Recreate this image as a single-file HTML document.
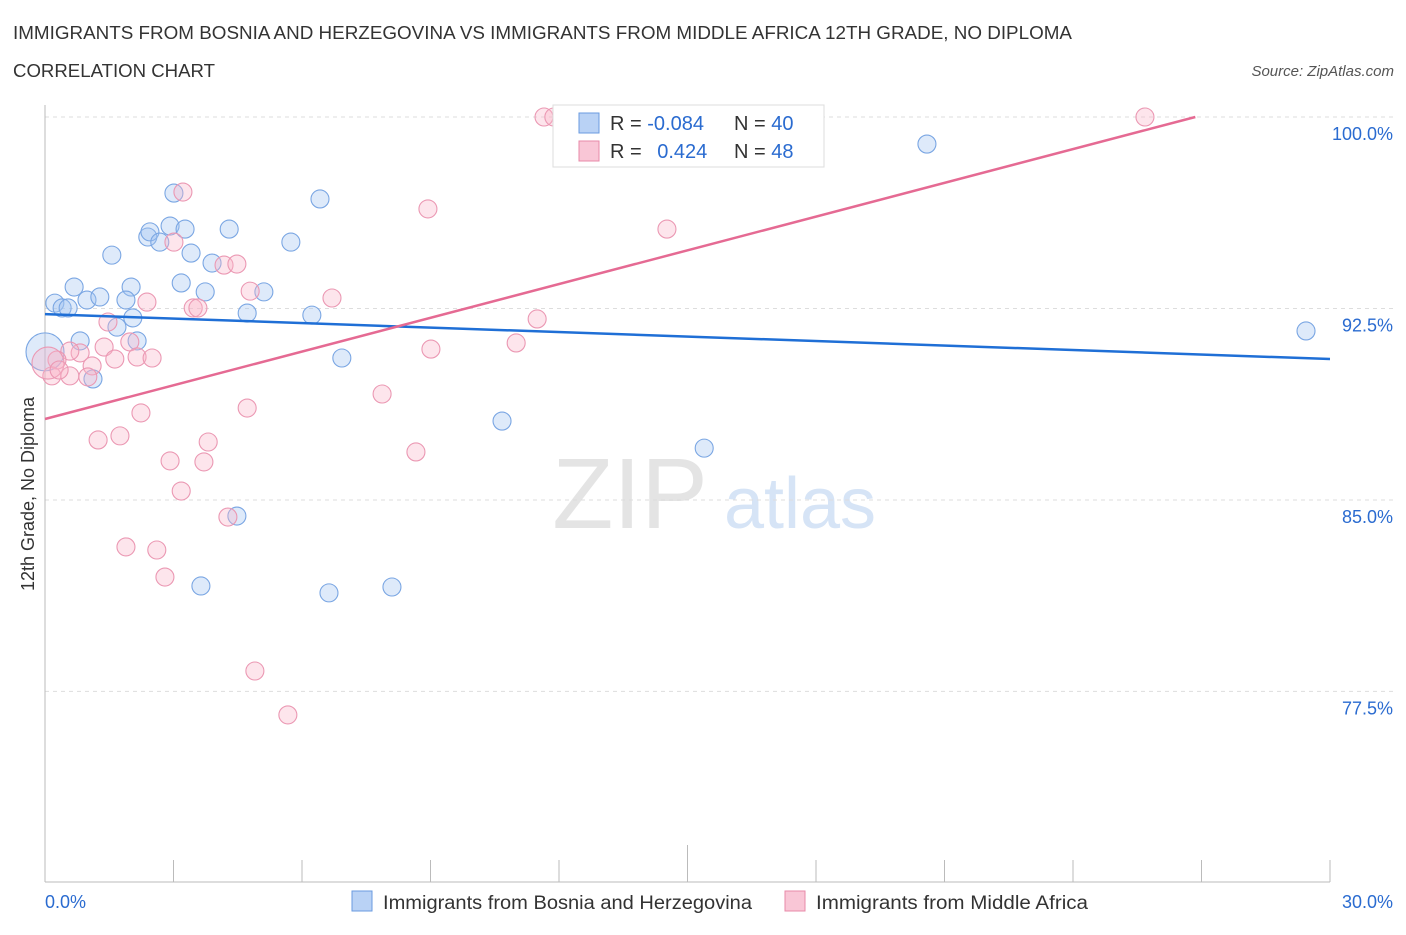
<!DOCTYPE html>
<html><head><meta charset="utf-8"><style>
body{margin:0;background:#fff;font-family:"Liberation Sans",sans-serif;}
svg text{font-family:"Liberation Sans",sans-serif;}
</style></head><body>
<svg width="1406" height="930">
<text x="13" y="39" font-size="18" fill="#333" textLength="1059" lengthAdjust="spacingAndGlyphs">IMMIGRANTS FROM BOSNIA AND HERZEGOVINA VS IMMIGRANTS FROM MIDDLE AFRICA 12TH GRADE, NO DIPLOMA</text>
<text x="13" y="77" font-size="18" fill="#333" textLength="202" lengthAdjust="spacingAndGlyphs">CORRELATION CHART</text>
<text x="1394" y="76" font-size="15" fill="#555" font-style="italic" text-anchor="end">Source: ZipAtlas.com</text>
<text x="630" y="528" font-size="100" fill="#e4e4e4" font-family="Liberation Serif" text-anchor="middle">ZIP</text>
<text x="800" y="528" font-size="72" fill="#d6e4f6" text-anchor="middle">atlas</text>
<g id="grid"></g>
<g id="axes"></g>
<g id="marks"></g>
<text transform="translate(34,494) rotate(-90)" font-size="18" fill="#333" text-anchor="middle">12th Grade, No Diploma</text>
<g>
<rect x="553" y="105" width="271" height="62" fill="#fff" stroke="#ddd"/>
<rect x="579" y="113" width="20" height="20" fill="#b9d2f5" stroke="#6a9be0"/>
<rect x="579" y="141" width="20" height="20" fill="#f9c6d6" stroke="#e88aa8"/>
<text x="610" y="130" font-size="20" fill="#333">R = <tspan fill="#2a6bd0">-0.084</tspan></text>
<text x="734" y="130" font-size="20" fill="#333">N = <tspan fill="#2a6bd0">40</tspan></text>
<text x="610" y="158" font-size="20" fill="#333">R = <tspan fill="#2a6bd0" dx="10">0.424</tspan></text>
<text x="734" y="158" font-size="20" fill="#333">N = <tspan fill="#2a6bd0">48</tspan></text>
</g>
<g>
<rect x="352" y="891" width="20" height="20" fill="#b9d2f5" stroke="#6a9be0"/>
<text x="383" y="909" font-size="19" fill="#333" textLength="369" lengthAdjust="spacingAndGlyphs">Immigrants from Bosnia and Herzegovina</text>
<rect x="785" y="891" width="20" height="20" fill="#f9c6d6" stroke="#e88aa8"/>
<text x="816" y="909" font-size="19" fill="#333" textLength="272" lengthAdjust="spacingAndGlyphs">Immigrants from Middle Africa</text>
</g>
</svg>
<script>
const yTicks=[100,92.5,85,77.5];
const yTickLabels=["100.0%","92.5%","85.0%","77.5%"];
const xTickLabels=["0.0%","30.0%"];
const blueX=[0.23,0.40,0.54,0.68,0.98,1.28,0.82,1.56,2.01,1.89,2.05,2.15,1.68,1.12,2.40,2.45,2.68,2.92,3.27,3.01,3.41,3.18,3.74,3.90,4.30,4.72,5.11,5.74,6.42,6.23,6.93,4.48,3.64,6.63,8.10,10.67,15.39,20.59,29.44,0.0];
const blueY=[92.71,92.52,92.52,93.34,92.83,92.95,91.23,94.59,93.34,92.83,92.13,91.23,91.77,89.74,95.30,95.50,95.10,95.73,95.61,97.02,94.67,93.50,93.15,94.28,95.61,92.32,93.15,95.10,96.79,92.24,90.56,84.37,81.63,81.36,81.59,88.09,87.03,98.94,91.62,90.80];
const pinkX=[11.65,11.88,25.68,3.22,3.01,8.94,14.52,4.18,4.48,4.79,6.70,2.38,3.46,3.57,11.49,11.00,9.01,1.47,1.98,1.38,0.82,0.58,0.28,1.10,1.63,2.15,2.50,0.58,1.00,0.16,7.87,4.72,2.24,1.24,1.75,3.81,2.92,3.71,8.66,3.18,4.27,1.89,2.61,2.80,4.90,5.67,0.07,0.33];
const pinkY=[100,100,100,97.06,95.10,96.40,95.61,94.20,94.24,93.18,92.91,92.75,92.52,92.52,92.09,91.15,90.91,91.97,91.19,90.99,90.76,90.83,90.48,90.25,90.52,90.60,90.56,89.86,89.82,89.86,89.15,88.60,88.41,87.35,87.51,87.27,86.53,86.49,86.88,85.35,84.33,83.16,83.04,81.98,78.30,76.58,90.36,90.09];
const blueTrend=[92.28,90.52];   // y at x=0, x=30
const pinkTrend=[88.17,0.4405];  // intercept, slope
const NS="http://www.w3.org/2000/svg";
const X=v=>45+v/30*1285;
const Y=v=>117+(100-v)*25.53;
function mk(t,a,p){const e=document.createElementNS(NS,t);for(const k in a)e.setAttribute(k,a[k]);p.appendChild(e);return e;}
const grid=document.getElementById('grid'),axes=document.getElementById('axes'),marks=document.getElementById('marks');
yTicks.forEach((t,i)=>{
 const g=mk('line',{x1:45,x2:1394,y1:Y(t),y2:Y(t),stroke:'#ddd','stroke-dasharray':'4,4'},grid);
 
 
 const l=mk('text',{x:1393,y:Y(t)+23,'font-size':18,fill:'#2a6bd0','text-anchor':'end'},axes);
 l.textContent=yTickLabels[i];
 
 
});
const ax=mk('line',{x1:45,x2:45,y1:105,y2:882,stroke:'#bbb'},axes);


const bx=mk('line',{x1:45,x2:1330,y1:882,y2:882,stroke:'#bbb'},axes);


for(let i=0;i<=10;i++){const t=mk('line',{x1:45+i*128.5,x2:45+i*128.5,y1:882,y2:i==5?845:860,stroke:'#bbb'},axes);
 
 }
xTickLabels.forEach((s,i)=>{const t=mk('text',{x:i?1393:45,y:908,'font-size':18,fill:'#2a6bd0','text-anchor':i?'end':'start'},axes);t.textContent=s;
 
 });
function pts(xs,ys,fill,stroke,name){xs.forEach((x,i)=>{const big=(x<0.1);const c=mk('circle',{cx:X(x),cy:Y(ys[i]),r:big?(name=='blue-point'?19:16):9,fill:fill,stroke:stroke,'stroke-width':1.1},marks);
 
 });}
pts(blueX,blueY,'rgba(160,195,240,0.35)','#7aa6e3','blue-point');
pts(pinkX,pinkY,'rgba(248,180,200,0.35)','#eb98b3','pink-point');
const bl=mk('line',{x1:X(0),y1:Y(blueTrend[0]),x2:X(30),y2:Y(blueTrend[1]),stroke:'#1f6fd6','stroke-width':2.5},marks);


const xe=(100-pinkTrend[0])/pinkTrend[1];
const pl=mk('line',{x1:X(0),y1:Y(pinkTrend[0]),x2:X(xe),y2:Y(100),stroke:'#e56a93','stroke-width':2.5},marks);


</script>
</body></html>
